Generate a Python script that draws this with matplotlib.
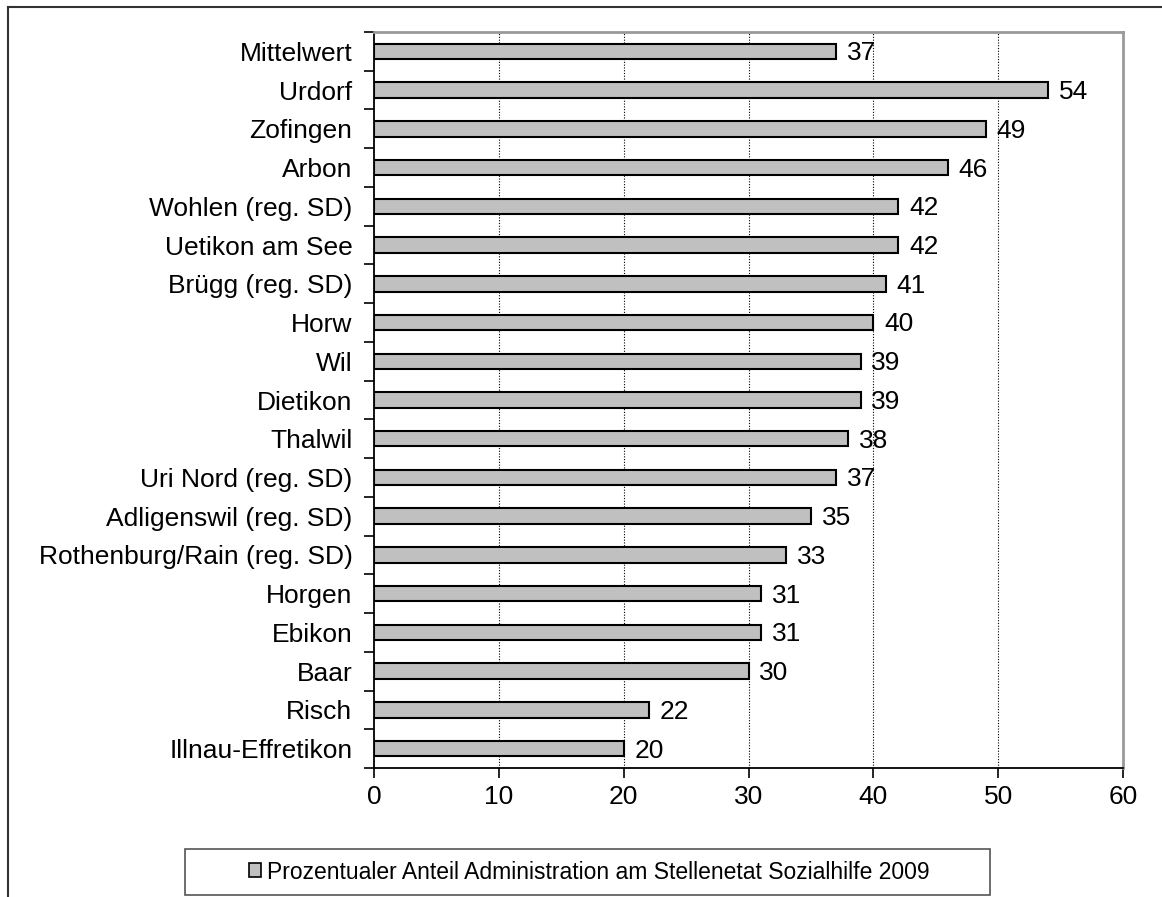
import matplotlib
matplotlib.use("Agg")
import matplotlib.pyplot as plt
from matplotlib.lines import Line2D
from matplotlib.patches import Rectangle, Patch
import numpy as np

plt.rcParams['font.family'] = ['Liberation Sans', 'DejaVu Sans']

gemeinden = ["Mittelwert", "Urdorf", "Zofingen", "Arbon", "Wohlen (reg. SD)",
             "Uetikon am See", "Brügg (reg. SD)", "Horw", "Wil", "Dietikon",
             "Thalwil", "Uri Nord (reg. SD)", "Adligenswil (reg. SD)",
             "Rothenburg/Rain (reg. SD)", "Horgen", "Ebikon", "Baar", "Risch",
             "Illnau-Effretikon"]
anteil = [37, 54, 49, 46, 42, 42, 41, 40, 39, 39, 38, 37, 35, 33, 31, 31, 30, 22, 20]
x_ticks = [0, 10, 20, 30, 40, 50, 60]
legend_label = "Prozentualer Anteil Administration am Stellenetat Sozialhilfe 2009"

W, H = 1162, 897
FS = 19
fig = plt.figure(figsize=(W / 100, H / 100), dpi=100)
ax = fig.add_axes([374 / W, 1 - 768 / H, (1123 - 374) / W, (768 - 32) / H])

y = np.arange(len(gemeinden))
ax.barh(y, anteil, height=0.4, color="#c0c0c0", edgecolor="black", linewidth=1.5, zorder=3)

for yi, v in zip(y, anteil):
    ax.text(v + 0.85, yi + 0.05, str(v), va="center", ha="left", fontsize=FS, zorder=4)

ax.set_xlim(0, 60)
ax.set_ylim(len(gemeinden) - 0.5, -0.5)
ax.set_xticks(x_ticks)
ax.set_xticklabels([str(t) for t in x_ticks], fontsize=FS)

# category labels in the middle, tick marks on the boundaries
ax.set_yticks(y)
ax.set_yticklabels(gemeinden, fontsize=FS)
ax.tick_params(axis="y", which="major", length=0, pad=15.5)
ax.set_yticks(np.arange(len(gemeinden) + 1) - 0.5, minor=True)
ax.tick_params(axis="y", which="minor", length=7, width=1.2, direction="out")
ax.tick_params(axis="x", length=7, width=1.2, direction="out", pad=5)

for xv in x_ticks[1:-1]:
    ax.axvline(xv, color="black", linewidth=0.8, linestyle=(0, (1, 1.5)), zorder=1)

ax.spines["left"].set_color("black")
ax.spines["bottom"].set_color("black")
ax.spines["left"].set_linewidth(1.3)
ax.spines["bottom"].set_linewidth(1.3)
ax.spines["top"].set_color("#999999")
ax.spines["right"].set_color("#999999")
ax.spines["top"].set_linewidth(2)
ax.spines["right"].set_linewidth(2)

# outer chart frame (top and left edges)
fig.add_artist(Line2D([8 / W, 1], [1 - 7 / H, 1 - 7 / H], color="#333333", linewidth=1.5))
fig.add_artist(Line2D([8 / W, 8 / W], [0, 1 - 7 / H], color="#333333", linewidth=1.5))

# legend box
fig.add_artist(Rectangle((185 / W, 1 - 895 / H), (990 - 185) / W, (895 - 849) / H,
                         transform=fig.transFigure, facecolor="white",
                         edgecolor="#555555", linewidth=1.2))
handle = Patch(facecolor="#c0c0c0", edgecolor="black", linewidth=1.2)
fig.legend([handle], [legend_label], loc="center",
           bbox_to_anchor=(589 / W, 1 - 872 / H), frameon=False, fontsize=16.5,
           handlelength=0.55, handleheight=0.55, handletextpad=0.25)

fig.savefig("out.png", dpi=100)
